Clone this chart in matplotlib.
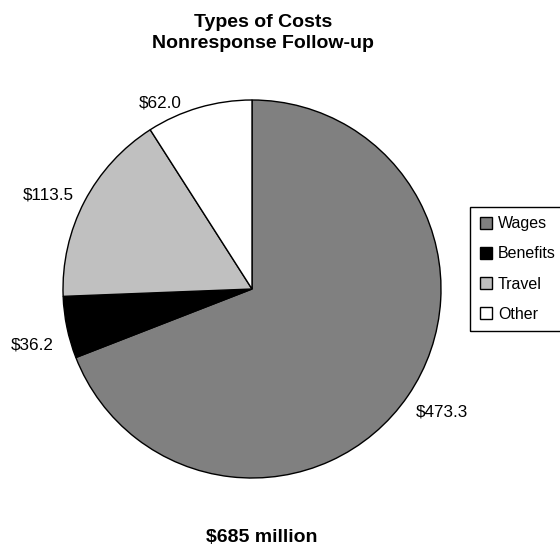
import matplotlib.pyplot as plt
from matplotlib.patches import Rectangle

plt.rcParams['font.family'] = ['Liberation Sans', 'DejaVu Sans']

# cost types, millions of dollars
categories = ['Wages', 'Benefits', 'Travel', 'Other']
costs = [473.3, 36.2, 113.5, 62.0]
colors = ['#808080', '#000000', '#c0c0c0', '#ffffff']
value_labels = ['$473.3', '$36.2', '$113.5', '$62.0']
title = 'Types of Costs\nNonresponse Follow-up'
total_text = '$685 million'

# where excel put the data labels (pie radius = 1)
label_xy = [(1.005, -0.651), (-1.164, -0.296), (-1.079, 0.497), (-0.487, 0.984)]

fig = plt.figure(figsize=(5.6, 5.48), dpi=100)
ax = fig.add_axes([63 / 560, 70 / 548, 378 / 560, 378 / 548])

wedges, texts = ax.pie(costs, colors=colors, startangle=90, counterclock=False,
                       wedgeprops=dict(edgecolor='black', linewidth=1.0))
ax.set_xlim(-1, 1)
ax.set_ylim(-1, 1)
ax.set_aspect('equal')
ax.axis('off')

for lbl, (x, y) in zip(value_labels, label_xy):
    ax.text(x, y, lbl, ha='center', va='center', fontsize=12.3, clip_on=False)

fig.text(263 / 560, 1 - 33 / 548, title, ha='center', va='center',
         fontsize=14, fontweight='bold', linespacing=1.25)
fig.text(262 / 560, 1 - 537 / 548, total_text, ha='center', va='center',
         fontsize=14, fontweight='bold')

leg = fig.legend(wedges, categories, loc='center left',
                 bbox_to_anchor=(470 / 560, 1 - 269 / 548),
                 fontsize=11.5, frameon=False,
                 handlelength=0.75, handleheight=0.75, handletextpad=0.4,
                 labelspacing=0.95, borderpad=0.6, borderaxespad=0)

# legend box runs off the right edge like the original
fig.canvas.draw()
bb = leg.get_window_extent().transformed(fig.transFigure.inverted())
fig.patches.append(Rectangle((bb.x0, bb.y0), 0.3, bb.height, transform=fig.transFigure,
                             facecolor='none', edgecolor='black', linewidth=1.0))

fig.savefig('out.png', dpi=100)
